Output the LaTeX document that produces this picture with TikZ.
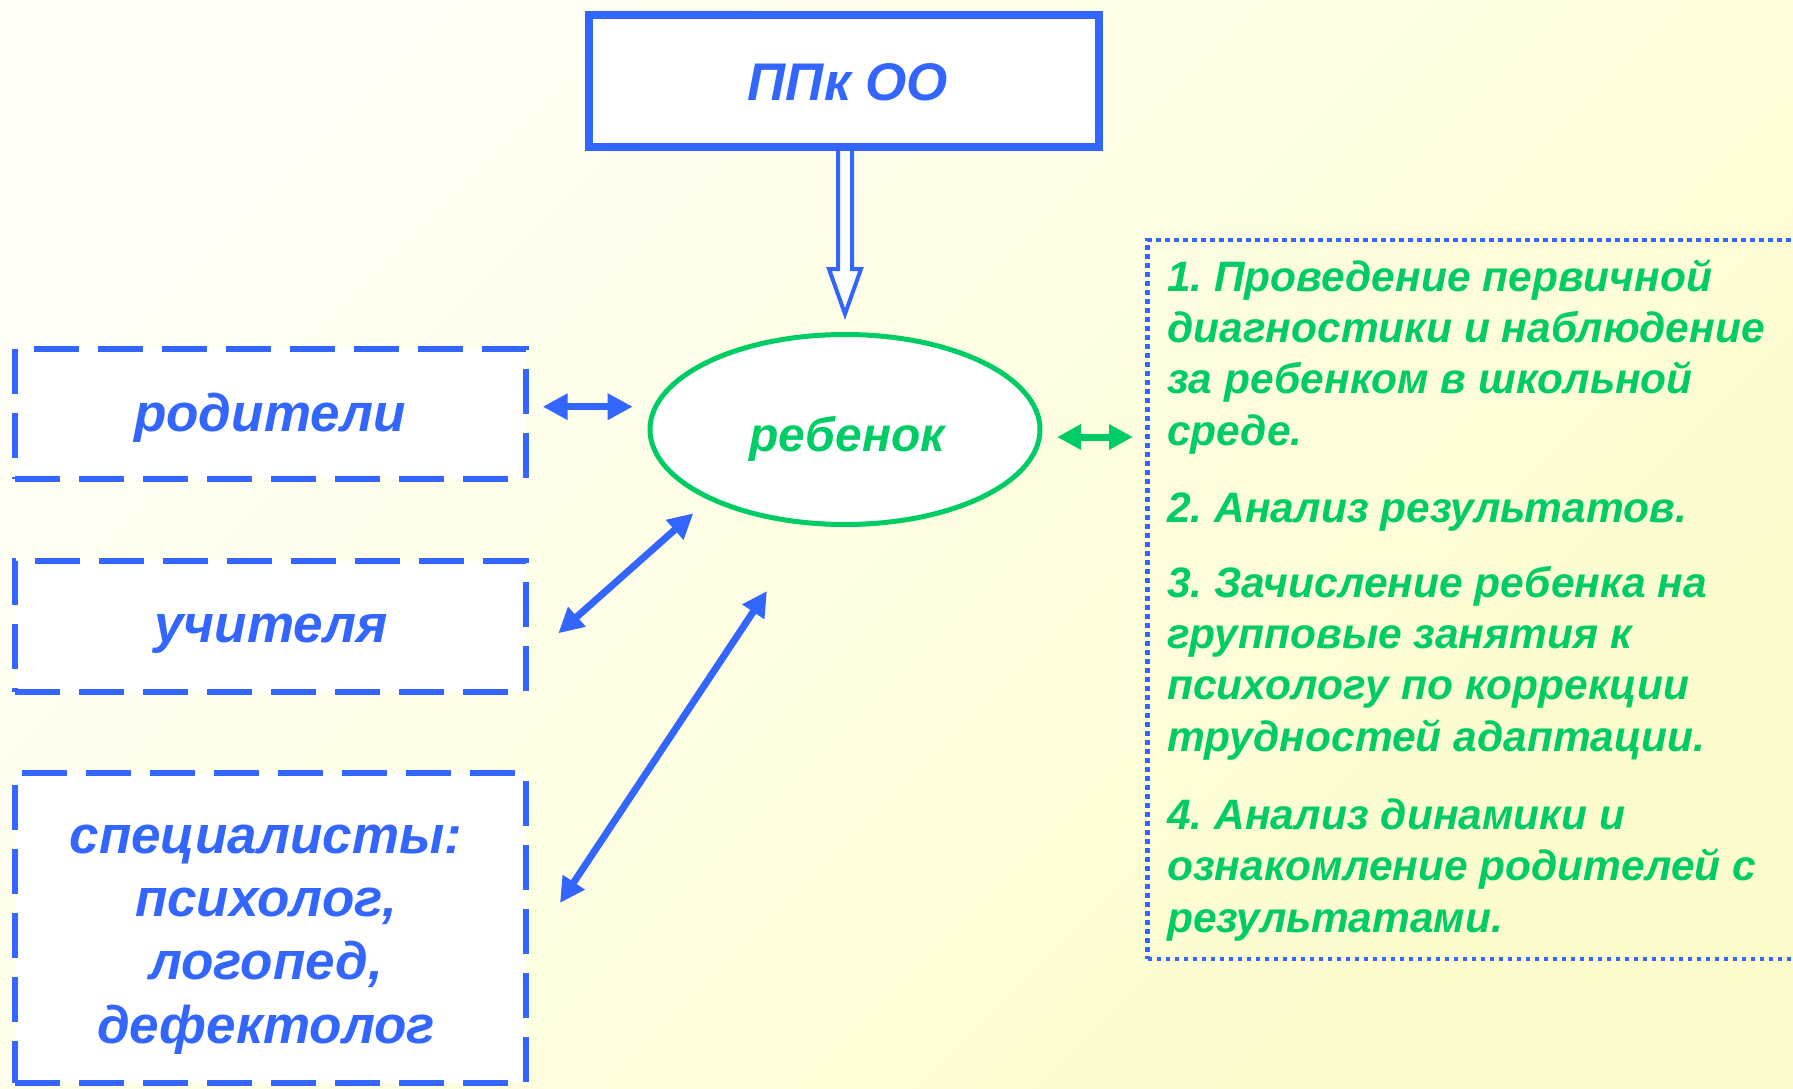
\documentclass[tikz,border=0pt]{standalone}
\usepackage{fontspec}
\setmainfont{Liberation Sans}
\usetikzlibrary{arrows.meta,calc,shapes.geometric}
\definecolor{ublue}{RGB}{51,102,255}
\definecolor{ugreen}{RGB}{0,204,102}
\definecolor{bgA}{RGB}{255,255,247}
\definecolor{bgB}{RGB}{252,252,204}
\frenchspacing
\begin{document}
\begin{tikzpicture}[x=1pt,y=-1pt,
  lbl/.style={font=\fontsize{53pt}{63.3pt}\selectfont\bfseries\itshape, inner sep=0pt, anchor=base, align=center},
  lbox/.style={draw=ublue, line width=6pt, fill=white, dash pattern=on 45pt off 19pt,
     minimum width=511pt, inner sep=0pt},
  steptext/.style={font=\fontsize{42.5pt}{51.2pt}\selectfont\bfseries\itshape, text=ugreen,
     align=left, inner sep=0pt, anchor=base west},
  barrow/.style={draw=ublue, line width=7pt, {Triangle[length=25pt,width=25pt]}-{Triangle[length=25pt,width=25pt]}},
  garrow/.style={draw=ugreen, line width=7pt, {Triangle[length=24pt,width=24pt]}-{Triangle[length=24pt,width=24pt]}}
]
\useasboundingbox (0,0) rectangle (1793,1089);
\clip (0,0) rectangle (1793,1089);
\shade[top color=bgA, bottom color=bgB, shading angle=45] (0,0) rectangle (1793,1089);

% hollow arrow
\coordinate (hs) at (845,151);
\draw[ublue, line width=4pt, fill=white, line join=miter]
  ($(hs)+(-7,-4)$) -- ($(hs)+(-7,118)$) -- ($(hs)+(-16,118)$) -- ($(hs)+(0,163)$)
  -- ($(hs)+(16,118)$) -- ($(hs)+(7,118)$) -- ($(hs)+(7,-4)$) -- cycle;

\node[draw=ublue, line width=8pt, fill=white, minimum width=510pt, minimum height=132pt,
  inner sep=0pt] (ppk) at (844,81) {};
\node[lbl, text=ublue] (ppkT) at (848,100.5) {ППк ОО};

\node[ellipse, draw=ugreen, line width=5pt, fill=white, minimum width=390pt,
  minimum height=190pt, inner sep=0pt] (child) at (845,429.5) {};
\node[lbl, text=ugreen, font=\fontsize{48pt}{56pt}\selectfont\bfseries\itshape] (childT) at (847,451) {ребенок};

\node[lbox, minimum height=130pt] (parents) at (270.5,414) {};
\node[lbl, text=ublue] (parentsT) at (270,431) {родители};
\node[lbox, minimum height=131pt] (teachers) at (270.5,626.5) {};
\node[lbl, text=ublue] (teachersT) at (271,642) {учителя};
\node[lbox, minimum height=310pt] (spec) at (270.5,928) {};
\node[lbl, text=ublue] (specT) at (266,1043) {специалисты:\\психолог,\\логопед,\\дефектолог};

\node[draw=ublue, line width=4.5pt, dash pattern=on 4.5pt off 4.5pt, minimum width=700pt,
  minimum height=719pt, inner sep=0pt] (steps) at (1497.5,599.5) {};

\node[steptext] (p1) at (1167,445) {1. Проведение первичной\\диагностики и наблюдение\\за ребенком в школьной\\среде.};
\node[steptext] (p2) at (1167,522) {2. Анализ результатов.};
\node[steptext] (p3) at (1167,751) {3. Зачисление ребенка на\\групповые занятия к\\психологу по коррекции\\трудностей адаптации.};
\node[steptext] (p4) at (1167,932) {4. Анализ динамики и\\ознакомление родителей с\\результатами.};

\draw[barrow] ($(parents.east)+(13.7,-7.3)$) -- ($(child.west)+(-14.8,-22.8)$);
\draw[barrow] ($(teachers.east)+(29.3,6.8)$) -- ($(child.center)+(-151.7,83.8)$);
\draw[barrow] ($(spec.east)+(31,-25)$) -- ($(child.center)+(-78,161.5)$);
\draw[garrow] ($(child.east)+(14.5,7.5)$) -- ($(steps.west)+(-12.25,-162.5)$);
\end{tikzpicture}
\end{document}
